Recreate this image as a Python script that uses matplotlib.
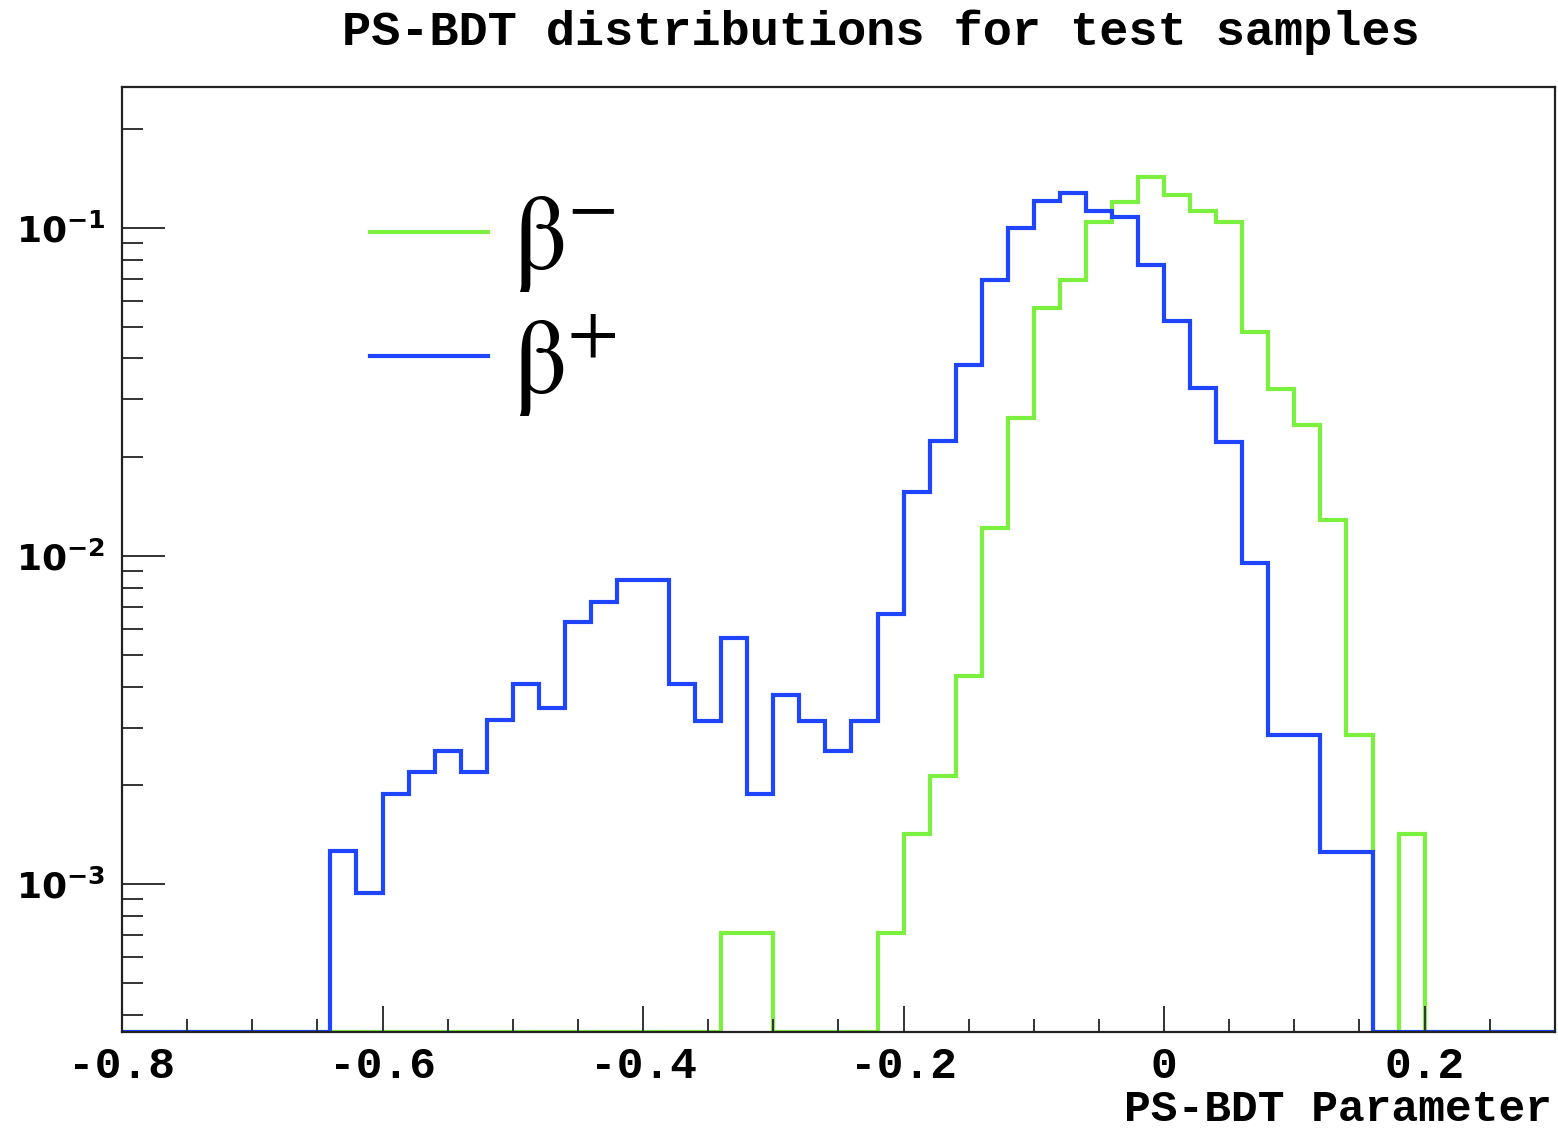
import matplotlib
matplotlib.use("Agg")
import matplotlib.pyplot as plt
import numpy as np
from matplotlib.ticker import LogLocator, MultipleLocator, FuncFormatter, NullFormatter

plt.rcParams['mathtext.default'] = 'rm'

# 55 bins of width 0.02 from -0.8 to 0.3
bin_edges = np.linspace(-0.8, 0.3, 56)

beta_minus = [
    0, 0, 0, 0, 0, 0, 0, 0, 0, 0,
    0, 0, 0, 0, 0, 0, 0, 0, 0, 0,
    0, 0, 0, 7.1e-4, 7.1e-4, 0, 0, 0, 0, 7.1e-4,
    1.42e-3, 2.13e-3, 4.3e-3, 0.0122, 0.0264, 0.0571, 0.0692, 0.104, 0.120, 0.143,
    0.126, 0.113, 0.104, 0.0481, 0.0322, 0.025, 0.0129, 2.84e-3, 0, 1.42e-3,
    0, 0, 0, 0, 0,
]

beta_plus = [
    0, 0, 0, 0, 0, 0, 0, 0, 1.26e-3, 9.4e-4,
    1.88e-3, 2.19e-3, 2.54e-3, 2.19e-3, 3.16e-3, 4.08e-3, 3.45e-3, 6.3e-3, 7.26e-3, 8.47e-3,
    8.47e-3, 4.08e-3, 3.14e-3, 5.64e-3, 1.88e-3, 3.76e-3, 3.14e-3, 2.54e-3, 3.14e-3, 6.64e-3,
    0.0157, 0.0224, 0.0382, 0.0695, 0.100, 0.1205, 0.128, 0.113, 0.108, 0.0772,
    0.052, 0.0326, 0.0222, 9.5e-3, 2.84e-3, 2.84e-3, 1.25e-3, 1.25e-3, 0, 0,
    0, 0, 0, 0, 0,
]

labels = [r'$\beta^{-}$', r'$\beta^{+}$']
colors = ['#7cf03e', '#1f45ff']

ymin, ymax = 3.54e-4, 0.269

fig = plt.figure(figsize=(15.58, 11.28), dpi=100)
ax = fig.add_axes([0.0783, 0.0851, 0.9197, 0.8378])

# empty bins sit on the bottom frame, as in ROOT
for vals, lab, col in zip([beta_minus, beta_plus], labels, colors):
    v = np.clip(np.array(vals, dtype=float), ymin, None)
    ax.stairs(v, bin_edges, baseline=ymin, color=col, lw=3, label=lab)

ax.set_yscale('log')
ax.set_xlim(-0.8, 0.3)
ax.set_ylim(ymin, ymax)

# ticks
ax.xaxis.set_major_locator(MultipleLocator(0.2))
ax.xaxis.set_minor_locator(MultipleLocator(0.05))
ax.xaxis.set_major_formatter(FuncFormatter(lambda x, p: '0' if abs(x) < 1e-9 else '%.1f' % x))
ax.yaxis.set_major_locator(LogLocator(base=10, numticks=10))
ax.yaxis.set_minor_locator(LogLocator(base=10, subs=np.arange(2, 10), numticks=20))
ax.yaxis.set_minor_formatter(NullFormatter())
ax.yaxis.set_major_formatter(FuncFormatter(
    lambda y, p: r'$\mathbf{10^{%d}}$' % int(round(np.log10(y)))))

ax.tick_params(axis='x', which='both', direction='in', top=False, color='#333333', width=1.4)
ax.tick_params(axis='x', which='major', length=19, pad=10)
ax.tick_params(axis='x', which='minor', length=9.5)
ax.tick_params(axis='y', which='both', direction='in', right=False, color='#333333', width=1.4)
ax.tick_params(axis='y', which='major', length=31, pad=12)
ax.tick_params(axis='y', which='minor', length=15)

for t in ax.get_xticklabels():
    t.set_fontfamily('Liberation Mono')
    t.set_fontweight('bold')
    t.set_fontsize(32)
for t in ax.get_yticklabels():
    t.set_fontsize(26)
    t.set_math_fontfamily('dejavusans')

for s in ax.spines.values():
    s.set_linewidth(1.6)
    s.set_color('#222222')

leg = ax.legend(loc='upper left', bbox_to_anchor=(0.173, 0.887), frameon=False,
                prop={'family': 'STIXGeneral', 'size': 76, 'math_fontfamily': 'stix'},
                handlelength=1.12, handletextpad=0.24, labelspacing=0.17,
                borderpad=0, borderaxespad=0)
for h in leg.legend_handles:
    h.set_linewidth(3)

fig.text(0.5655, 0.9716, 'PS-BDT distributions for test samples', ha='center', va='center',
         fontfamily='Liberation Mono', fontweight='bold', fontsize=35)
fig.text(0.996, 0.016, 'PS-BDT Parameter', ha='right', va='center',
         fontfamily='Liberation Mono', fontweight='bold', fontsize=32)

fig.savefig('out.png', dpi=100)
